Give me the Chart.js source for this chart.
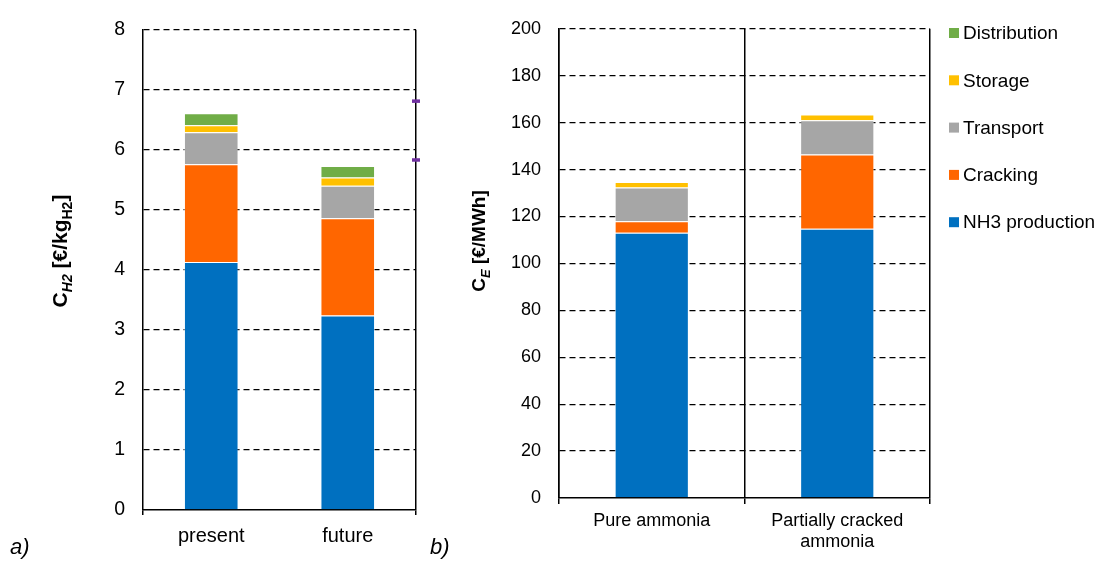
<!DOCTYPE html>
<html>
<head>
<meta charset="utf-8">
<script src="https://cdn.jsdelivr.net/npm/chart.js@4.4.0/dist/chart.umd.min.js"></script>
<style>
  html, body { margin: 0; padding: 0; background: #fff; }
  #wrap { position: relative; width: 1102px; height: 561px; overflow: hidden; }
  #left { position: absolute; left: 0; top: 0; }
  #right { position: absolute; left: 425px; top: 0; }
</style>
</head>
<body>
<div id="wrap">
  <canvas id="left" width="425" height="561"></canvas>
  <canvas id="right" width="677" height="561"></canvas>
</div>
<script>
// --- data (a): hydrogen cost, €/kg H2
const leftCategories = ['present', 'future'];
const leftNH3 = [4.13, 3.24];
const leftCracking = [1.63, 1.62];
const leftTransport = [0.53, 0.54];
const leftStorage = [0.12, 0.14];
const leftDistribution = [0.20, 0.19];
const leftMarks = [6.81, 5.83];   // small purple marks on right border
const leftTicks = [0, 1, 2, 3, 4, 5, 6, 7, 8];

// --- data (b): energy cost, €/MWh
const rightCategories = ['Pure ammonia', ['Partially cracked', 'ammonia']];
const rightNH3 = [113.1, 114.8];
const rightCracking = [4.9, 31.6];
const rightTransport = [14.3, 14.6];
const rightStorage = [2.4, 2.5];
const rightDistribution = [0, 0];
const rightTicks = [0, 20, 40, 60, 80, 100, 120, 140, 160, 180, 200];

const seriesNames = ['NH3 production', 'Cracking', 'Transport', 'Storage', 'Distribution'];
const seriesColors = ['#0070C0', '#FF6600', '#A6A6A6', '#FFC000', '#70AD47'];

const FONT = 'Arial, "Liberation Sans", sans-serif';

function makeSets(values) {
  return values.map((v, i) => ({
    label: seriesNames[i],
    data: v,
    backgroundColor: seriesColors[i],
    borderColor: 'rgba(255,255,255,0.55)',
    borderWidth: c => (c.raw ? 1 : 0),
    grouped: false,
    barPercentage: 0.4,
    categoryPercentage: 1.0
  }));
}

// rotated axis title with subscripts
function drawRich(ctx, parts, cx, cy) {
  ctx.save();
  ctx.translate(cx, cy);
  ctx.rotate(-Math.PI / 2);
  ctx.fillStyle = '#000';
  ctx.textBaseline = 'alphabetic';
  let total = 0;
  parts.forEach(p => {
    ctx.font = (p.italic ? 'italic ' : '') + 'bold ' + p.size + 'px ' + FONT;
    p.w = ctx.measureText(p.text).width;
    total += p.w;
  });
  let x = -total / 2;
  parts.forEach(p => {
    ctx.font = (p.italic ? 'italic ' : '') + 'bold ' + p.size + 'px ' + FONT;
    ctx.fillText(p.text, x, 7 + (p.sub || 0));
    x += p.w;
  });
  ctx.restore();
}

const leftDecor = {
  id: 'leftDecor',
  afterDraw(chart) {
    const ctx = chart.ctx;
    drawRich(ctx, [
      { text: 'C', size: 21 },
      { text: 'H2', size: 14, italic: true, sub: 5 },
      { text: ' [€/kg', size: 21 },
      { text: 'H2', size: 14, sub: 5 },
      { text: ']', size: 21 }
    ], 60, 251);
    ctx.save();
    ctx.font = 'italic 22px ' + FONT;
    ctx.fillStyle = '#000';
    ctx.fillText('a)', 10, 554);
    ctx.restore();
  }
};

const rightDecor = {
  id: 'rightDecor',
  afterDraw(chart) {
    const ctx = chart.ctx;
    const area = chart.chartArea;
    drawRich(ctx, [
      { text: 'C', size: 19 },
      { text: 'E', size: 13, italic: true, sub: 5 },
      { text: ' [€/MWh]', size: 19 }
    ], 478 - 425, 241);
    ctx.save();
    ctx.font = 'italic 22px ' + FONT;
    ctx.fillStyle = '#000';
    ctx.fillText('b)', 430 - 425, 554);
    // legend, top item = last series
    ctx.font = '19px ' + FONT;
    ctx.textBaseline = 'middle';
    const sets = chart.data.datasets.slice().reverse();
    sets.forEach((ds, i) => {
      const y = 33 + i * 47.3;
      ctx.fillStyle = ds.backgroundColor;
      ctx.fillRect(area.right + 19, y - 5, 10, 10);
      ctx.fillStyle = '#000';
      ctx.fillText(ds.label, area.right + 33, y + 1);
    });
    ctx.restore();
  }
};

const clear = 'rgba(0,0,0,0)';

new Chart(document.getElementById('left'), {
  type: 'bar',
  data: {
    labels: leftCategories,
    datasets: makeSets([leftNH3, leftCracking, leftTransport, leftStorage, leftDistribution]).concat([{
      type: 'scatter',
      label: 'marks',
      data: leftMarks.map(v => ({ x: 2, y: v })),
      xAxisID: 'x2',
      pointStyle: 'line',
      radius: 4,
      borderWidth: 3.5,
      borderColor: '#7030A0',
      backgroundColor: '#7030A0',
      clip: false
    }])
  },
  options: {
    responsive: false,
    animation: false,
    layout: { padding: { left: 0, right: 9, top: 20, bottom: 0 } },
    plugins: { legend: { display: false }, tooltip: { enabled: false } },
    scales: {
      x: {
        stacked: true,
        afterFit: s => { s.height = 51; },
        grid: {
          // only the closing line on the right (last offset grid line has scale context)
          color: c => c.type === 'scale' ? '#000' : clear,
          tickColor: c => c.index === 1 ? clear : '#000',
          lineWidth: 1.5,
          tickLength: 5,
          z: -1
        },
        border: { display: true, color: '#000', width: 1.5 },
        ticks: { color: '#000', font: { family: FONT, size: 20 }, padding: 9 }
      },
      x2: { type: 'linear', display: false, min: 0, max: 2, offset: false },
      y: {
        stacked: true,
        min: 0,
        max: 8,
        afterFit: s => { s.width = 143; },
        afterBuildTicks: s => { s.ticks = leftTicks.map(v => ({ value: v })); },
        grid: {
          color: c => (c.tick && c.tick.value === 0) ? clear : '#000',
          lineWidth: 1.3,
          drawTicks: false
        },
        border: { display: true, color: '#000', width: 1.5, dash: [6, 4] },
        ticks: { color: '#000', font: { family: FONT, size: 19.5 }, padding: 18 }
      }
    }
  },
  plugins: [leftDecor]
});

new Chart(document.getElementById('right'), {
  type: 'bar',
  data: {
    labels: rightCategories,
    datasets: makeSets([rightNH3, rightCracking, rightTransport, rightStorage, rightDistribution])
  },
  options: {
    responsive: false,
    animation: false,
    layout: { padding: { left: 0, right: 172, top: 20, bottom: 0 } },
    plugins: { legend: { display: false }, tooltip: { enabled: false } },
    scales: {
      x: {
        stacked: true,
        afterFit: s => { s.height = 63; },
        grid: { color: '#000', tickColor: '#000', lineWidth: 1.5, tickLength: 6 },
        border: { display: true, color: '#000', width: 1.5 },
        ticks: { color: '#000', font: { family: FONT, size: 18, lineHeight: 1.15 }, padding: 7 }
      },
      y: {
        stacked: true,
        min: 0,
        max: 200,
        afterFit: s => { s.width = 134; },
        afterBuildTicks: s => { s.ticks = rightTicks.map(v => ({ value: v })); },
        grid: {
          color: c => (c.tick && c.tick.value === 0) ? clear : '#000',
          lineWidth: 1.3,
          drawTicks: false
        },
        border: { display: true, color: '#000', width: 1.5, dash: [6, 4] },
        ticks: { color: '#000', font: { family: FONT, size: 18 }, padding: 18 }
      }
    }
  },
  plugins: [rightDecor]
});
</script>
</body>
</html>
